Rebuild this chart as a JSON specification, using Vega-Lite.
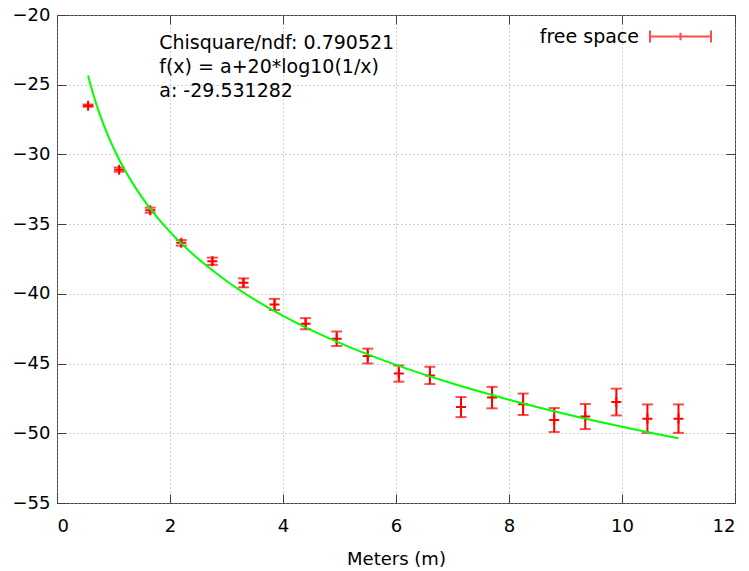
{
  "$schema": "https://vega.github.io/schema/vega-lite/v6.json",
  "width": 678,
  "height": 488,
  "autosize": {"type": "none"},
  "padding": {"left": 57, "top": 15, "right": 14, "bottom": 68},
  "background": "white",
  "config": {
    "font": "DejaVu Sans",
    "view": {"stroke": "#404040", "strokeWidth": 1},
    "axis": {
      "domain": false,
      "tickColor": "#404040",
      "tickSize": -9,
      "tickWidth": 1,
      "labelFont": "DejaVu Sans",
      "labelFontSize": 18,
      "labelColor": "#000000",
      "titleFont": "DejaVu Sans",
      "titleFontSize": 18,
      "titleFontWeight": "normal",
      "titleColor": "#000000",
      "gridColor": "#a0a0a0",
      "gridDash": [1, 3],
      "gridWidth": 1
    }
  },
  "datasets": {
    "freeSpace": [
      {"distance": 0.55, "power": -26.50, "err": 0.08},
      {"distance": 1.10, "power": -31.09, "err": 0.15},
      {"distance": 1.65, "power": -34.00, "err": 0.18},
      {"distance": 2.20, "power": -36.34, "err": 0.20},
      {"distance": 2.75, "power": -37.66, "err": 0.26},
      {"distance": 3.30, "power": -39.21, "err": 0.32},
      {"distance": 3.85, "power": -40.76, "err": 0.40},
      {"distance": 4.40, "power": -42.14, "err": 0.40},
      {"distance": 4.95, "power": -43.22, "err": 0.52},
      {"distance": 5.50, "power": -44.46, "err": 0.53},
      {"distance": 6.05, "power": -45.72, "err": 0.58},
      {"distance": 6.60, "power": -45.85, "err": 0.62},
      {"distance": 7.15, "power": -48.12, "err": 0.72},
      {"distance": 7.70, "power": -47.44, "err": 0.77},
      {"distance": 8.25, "power": -47.92, "err": 0.77},
      {"distance": 8.80, "power": -49.05, "err": 0.86},
      {"distance": 9.35, "power": -48.80, "err": 0.90},
      {"distance": 9.90, "power": -47.76, "err": 0.96},
      {"distance": 10.45, "power": -48.95, "err": 1.02},
      {"distance": 11.00, "power": -48.95, "err": 1.02}
    ],
    "fit": [
      {"distance": 0.55, "power": -24.3386},
      {"distance": 0.60, "power": -25.0943},
      {"distance": 0.65, "power": -25.7896},
      {"distance": 0.70, "power": -26.4333},
      {"distance": 0.75, "power": -27.0325},
      {"distance": 0.80, "power": -27.5931},
      {"distance": 0.90, "power": -28.6162},
      {"distance": 1.00, "power": -29.5313},
      {"distance": 1.10, "power": -30.3592},
      {"distance": 1.20, "power": -31.1149},
      {"distance": 1.40, "power": -32.4539},
      {"distance": 1.60, "power": -33.6137},
      {"distance": 1.80, "power": -34.6368},
      {"distance": 2.00, "power": -35.5519},
      {"distance": 2.50, "power": -37.4901},
      {"distance": 3.00, "power": -39.0737},
      {"distance": 3.50, "power": -40.4127},
      {"distance": 4.00, "power": -41.5725},
      {"distance": 4.50, "power": -42.5956},
      {"distance": 5.00, "power": -43.5107},
      {"distance": 5.50, "power": -44.3386},
      {"distance": 6.00, "power": -45.0943},
      {"distance": 7.00, "power": -46.4333},
      {"distance": 8.00, "power": -47.5931},
      {"distance": 9.00, "power": -48.6162},
      {"distance": 10.00, "power": -49.5313},
      {"distance": 11.00, "power": -50.3592}
    ]
  },
  "layer": [
    {
      "data": {"name": "freeSpace"},
      "mark": {
        "type": "errorbar",
        "thickness": 2,
        "ticks": {"size": 11, "thickness": 2}
      },
      "encoding": {
        "x": {
          "field": "distance",
          "type": "quantitative",
          "scale": {"domain": [0, 12], "nice": false, "zero": false},
          "axis": {
            "orient": "bottom",
            "title": "Meters (m)",
            "values": [0, 2, 4, 6, 8, 10, 12],
            "grid": true,
            "labelPadding": 23,
            "titlePadding": 15
          }
        },
        "y": {
          "field": "power",
          "type": "quantitative",
          "scale": {"domain": [-55, -20], "nice": false, "zero": false},
          "axis": {
            "orient": "left",
            "title": null,
            "values": [-55, -50, -45, -40, -35, -30, -25, -20],
            "grid": true,
            "labelPadding": 16
          }
        },
        "yError": {"field": "err"},
        "color": {
          "datum": "free space",
          "type": "nominal",
          "scale": {"range": ["#ff0000"]},
          "legend": {
            "title": null,
            "orient": "none",
            "legendX": 592,
            "legendY": -10,
            "padding": 0,
            "symbolType": "M-1,0H1M-1,-0.2V0.2M1,-0.2V0.2M0,-0.12V0.12",
            "symbolSize": 3721,
            "symbolStrokeWidth": 2,
            "symbolStrokeColor": "#ff0000",
            "symbolFillColor": "transparent",
            "labelAlign": "right",
            "labelOffset": -73,
            "labelFont": "DejaVu Sans",
            "labelFontSize": 19,
            "labelColor": "#000000",
            "labelLimit": 300
          }
        }
      }
    },
    {
      "data": {"name": "freeSpace"},
      "mark": {
        "type": "point",
        "shape": "M-1,0H1M0,-1V1",
        "size": 100,
        "filled": false,
        "color": "#ff0000",
        "strokeWidth": 2,
        "opacity": 1
      },
      "encoding": {
        "x": {"field": "distance", "type": "quantitative", "axis": null},
        "y": {"field": "power", "type": "quantitative", "axis": null}
      }
    },
    {
      "data": {"name": "fit"},
      "mark": {
        "type": "line",
        "color": "#00ff00",
        "strokeWidth": 2,
        "interpolate": "monotone"
      },
      "encoding": {
        "x": {
          "field": "distance",
          "type": "quantitative",
          "axis": {"orient": "top", "title": null, "labels": false, "grid": false, "values": [0, 2, 4, 6, 8, 10, 12]}
        },
        "y": {
          "field": "power",
          "type": "quantitative",
          "axis": {"orient": "right", "title": null, "labels": false, "grid": false, "values": [-55, -50, -45, -40, -35, -30, -25, -20]}
        }
      }
    },
    {
      "data": {"values": [{}]},
      "mark": {
        "type": "text",
        "text": ["Chisquare/ndf: 0.790521", "f(x) = a+20*log10(1/x)", "a: -29.531282"],
        "align": "left",
        "baseline": "alphabetic",
        "lineHeight": 24,
        "font": "DejaVu Sans",
        "fontSize": 19,
        "color": "#000000"
      },
      "encoding": {
        "x": {"datum": 1.81, "type": "quantitative", "axis": null},
        "y": {"datum": -22.45, "type": "quantitative", "axis": null}
      }
    }
  ],
  "resolve": {"axis": {"x": "independent", "y": "independent"}}
}
